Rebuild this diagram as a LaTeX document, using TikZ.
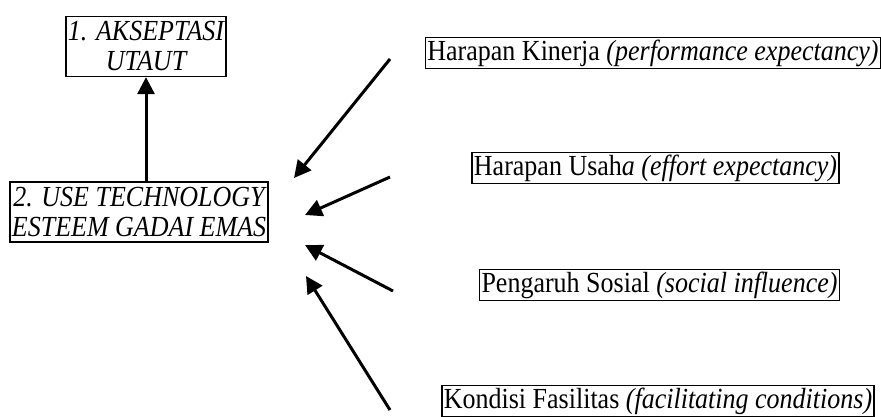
\documentclass[tikz,border=0pt]{standalone}
\usepackage{fontspec}
\usepackage{graphicx}
\setmainfont{Liberation Serif}
\usetikzlibrary{arrows.meta}
\newcommand{\vstr}[1]{\scalebox{1}[1.12]{#1}}
\begin{document}
\begin{tikzpicture}[x=1pt,y=-1pt,
  box/.style={draw, line width=1.3pt, inner sep=2pt, align=center,
    minimum height=30pt, font=\fontsize{26}{30}\selectfont},
  ibox/.style={box, minimum height=60pt, font=\fontsize{26}{30}\selectfont\itshape},
  arr/.style={line width=3pt, -{Triangle[length=17pt,width=17pt]}}]
\useasboundingbox (0,0) rectangle (881,417);
\node[ibox] (b1) at (146,46.5) {\vstr{1. AKSEPTASI}\\\vstr{UTAUT}};
\node[ibox] (b2) at (139,212) {\vstr{2. USE TECHNOLOGY}\\\vstr{ESTEEM GADAI EMAS}};
\node[box] (hk) at (653,53) {\vstr{Harapan Kinerja \textit{(performance expectancy)}}};
\node[box] (hu) at (655.5,168) {\vstr{Harapan Usah\textit{a (effort expectancy)}}};
\node[box] (ps) at (659.5,285) {\vstr{Pengaruh Sosial \textit{(social influence)}}};
\node[box] (kf) at (658,401) {\vstr{Kondisi Fasilitas \textit{(facilitating conditions)}}};
\coordinate (t1) at (390,59);  \coordinate (h1) at (294,178);
\coordinate (t2) at (390,177); \coordinate (h2) at (305,215);
\coordinate (t3) at (393,291); \coordinate (h3) at (305,245);
\coordinate (t4) at (390,410); \coordinate (h4) at (306,276);
\draw[arr] (b2.north -| b1.south) -- (b1.south);
\draw[arr] (t1) -- (h1);
\draw[arr] (t2) -- (h2);
\draw[arr] (t3) -- (h3);
\draw[arr] (t4) -- (h4);
\end{tikzpicture}
\end{document}
